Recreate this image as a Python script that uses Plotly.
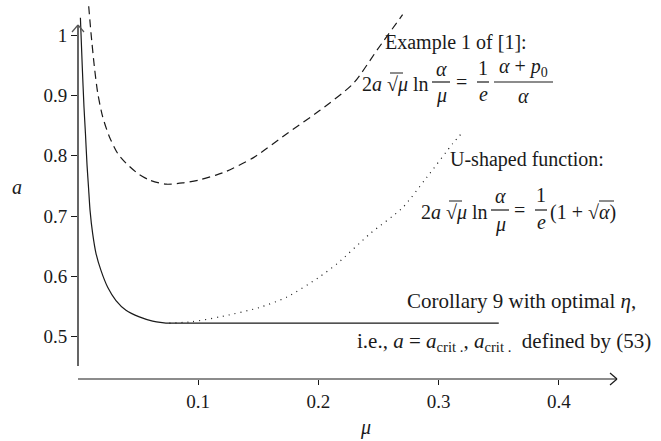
import plotly.graph_objects as go

# ---------------- data ----------------
solid_mu = [0.0020, 0.0035, 0.0050, 0.0062, 0.0075, 0.0089, 0.0100, 0.0122, 0.0150, 0.0191,
            0.0247, 0.0316, 0.0399, 0.0510, 0.0621, 0.0700, 0.0760,
            0.10, 0.15, 0.20, 0.25, 0.30, 0.35]
solid_a = [1.029, 0.950, 0.880, 0.837, 0.785, 0.743, 0.710, 0.671, 0.638, 0.610,
           0.582, 0.560, 0.544, 0.533, 0.526, 0.5236, 0.5226,
           0.5226, 0.5226, 0.5226, 0.5226, 0.5226, 0.5226]

dashed_mu = [0.0089, 0.0108, 0.0136, 0.0164, 0.0205, 0.0260, 0.0330, 0.0399, 0.0496, 0.0593,
             0.0732, 0.0871, 0.1009, 0.1148, 0.1231, 0.1460, 0.1740, 0.2010, 0.2290,
             0.2490, 0.2700]
dashed_a = [1.048, 1.004, 0.948, 0.904, 0.865, 0.832, 0.804, 0.788, 0.771, 0.760,
            0.753, 0.755, 0.760, 0.768, 0.774, 0.797, 0.837, 0.875, 0.920,
            0.976, 1.034]

dotted_mu = [0.076, 0.095, 0.118, 0.150, 0.174, 0.200, 0.216, 0.243, 0.270, 0.290, 0.312, 0.319]
dotted_a = [0.5226, 0.525, 0.533, 0.548, 0.566, 0.598, 0.622, 0.671, 0.714, 0.764, 0.821, 0.837]

x_ticks = [0.1, 0.2, 0.3, 0.4]
x_tick_labels = ["0.1", "0.2", "0.3", "0.4"]
y_ticks = [0.5, 0.6, 0.7, 0.8, 0.9, 1.0]
y_tick_labels = ["0.5", "0.6", "0.7", "0.8", "0.9", "1"]

# ---------------- layout geometry ----------------
W, H = 661, 441
ML, MR, MT, MB = 78, 30, 2, 62
PW, PH = W - ML - MR, H - MT - MB
FONT = '"Liberation Serif", "Times New Roman", serif'
INK = "#1a1a1a"
AXIS_GREY = "#555555"


def px(x):
    return (x - ML) / PW


def py(y):
    return (H - MB - y) / PH


fig = go.Figure()
fig.add_trace(go.Scatter(x=solid_mu, y=solid_a, mode="lines",
                         line=dict(color=INK, width=1.2, shape="spline", smoothing=0.5),
                         hoverinfo="skip"))
fig.add_trace(go.Scatter(x=dashed_mu, y=dashed_a, mode="lines",
                         line=dict(color=INK, width=1.2, dash="8px,5px", shape="spline",
                                   smoothing=0.7), hoverinfo="skip"))
fig.add_trace(go.Scatter(x=dotted_mu, y=dotted_a, mode="lines",
                         line=dict(color=INK, width=1.2, dash="1px,5px", shape="spline",
                                   smoothing=0.7), hoverinfo="skip"))

annotations = []
shapes = []


def txt(text, x, y, size=20, xanchor="center", yanchor="middle"):
    annotations.append(dict(text=text, x=px(x), y=py(y), xref="paper", yref="paper",
                            xanchor=xanchor, yanchor=yanchor, showarrow=False,
                            font=dict(family=FONT, size=size, color=INK)))


def seg(x0, y0, x1, y1, width=1.2, color=INK):
    shapes.append(dict(type="line", xref="paper", yref="paper", x0=px(x0), x1=px(x1),
                       y0=py(y0), y1=py(y1), line=dict(color=color, width=width)))


def hline(x0, x1, y, width=1.2):
    seg(x0, y, x1, y, width)


# Example 1 of [1]
txt("Example 1 of [1]:", 383, 43, xanchor="left")
txt("2<i>a</i> √<i>μ</i> ln", 431, 84, xanchor="right")
hline(390, 403, 73, 1)
txt("<i>α</i>", 441, 69)
hline(432, 450, 82)
txt("<i>μ</i>", 441, 96)
txt("=", 461, 82)
txt("1", 483, 68)
hline(477, 489, 82)
txt("<i>e</i>", 483, 94)
txt("<i>α</i> + <i>p</i><sub>0</sub>", 523, 68)
hline(494, 553, 82)
txt("<i>α</i>", 523, 96)

# U-shaped function
txt("U-shaped function:", 448, 159, xanchor="left")
txt("2<i>a</i> √<i>μ</i> ln", 490, 212, xanchor="right")
hline(449, 462, 201, 1)
txt("<i>α</i>", 500, 196)
hline(491, 509, 210)
txt("<i>μ</i>", 500, 224)
txt("=", 519, 210)
txt("1", 541, 195)
hline(535, 547, 210)
txt("<i>e</i>", 541, 222)
txt("(1 + √<i>α</i>)", 548, 212, xanchor="left")
hline(599, 614, 201, 1)

# Corollary
txt("Corollary 9 with optimal <i>η</i>,", 638, 301, size=21, xanchor="right")
txt("i.e., <i>a</i> = <i>a</i><sub>crit .</sub>, <i>a</i><sub>crit .</sub>  defined by (53)",
    653, 342, size=21, xanchor="right")

# axis titles
txt("<i>a</i>", 17, 187)
txt("<i>μ</i>", 365, 427)

# axis lines with open arrowheads (paper coordinates, drawn unclipped)
X0 = ML            # pixel of mu = 0
seg(X0, 366, X0, 25, 1.8, AXIS_GREY)
seg(X0 - 6, 32, X0, 25, 1.2, AXIS_GREY)
seg(X0 + 6, 32, X0, 25, 1.2, AXIS_GREY)
YB = H - MB        # pixel of the bottom of the plot
seg(X0, YB, 617, YB, 1.2)
seg(610, YB - 6, 617, YB, 1.2)
seg(610, YB + 6, 617, YB, 1.2)

fig.update_layout(
    width=W, height=H,
    margin=dict(l=ML, r=MR, t=MT, b=MB),
    paper_bgcolor="white", plot_bgcolor="white",
    showlegend=False,
    annotations=annotations, shapes=shapes,
    font=dict(family=FONT, size=19, color=INK),
    xaxis=dict(range=[0, 0.46], tickvals=x_ticks, ticktext=x_tick_labels,
               ticks="outside", ticklen=5, tickcolor=INK, showgrid=False,
               zeroline=False, showline=False, tickfont=dict(family=FONT, size=19, color=INK)),
    yaxis=dict(range=[0.43, 1.055], tickvals=y_ticks, ticktext=y_tick_labels,
               ticks="outside", ticklen=6, tickcolor=INK, showgrid=False,
               zeroline=False, showline=False, tickfont=dict(family=FONT, size=19, color=INK)),
)

fig.write_html("out.html", config={"displayModeBar": False},
               post_script="document.body.style.margin='0';document.body.style.overflow='hidden';")
